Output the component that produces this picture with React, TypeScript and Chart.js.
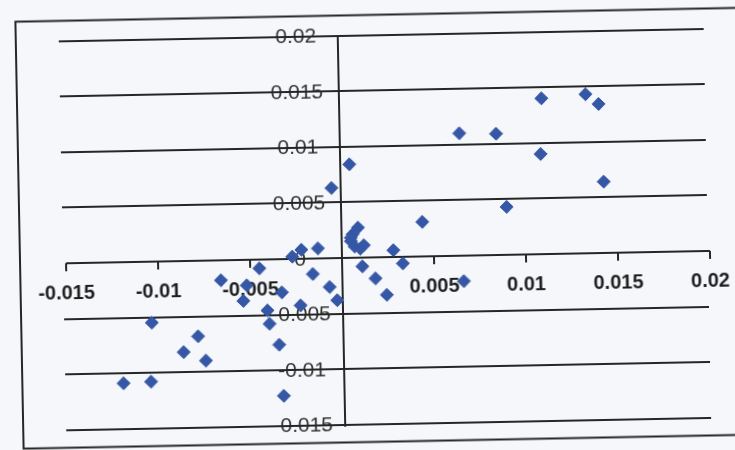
import React, { useEffect, useRef } from "react";
import { Chart, registerables } from "chart.js";

Chart.register(...registerables);

// Data
const xValues = [
  0.0110, 0.0134, 0.0141, 0.0065, 0.0085, 0.0109, 0.0143, 0.0090, 0.0044, 0.0066,
  0.0033, 0.0028, 0.0011, 0.0018, 0.0024, 0.0005, -0.0005, 0.0009, 0.0006, 0.0005,
  0.0005, 0.0007, 0.0010, 0.0012, -0.0027, -0.0022, -0.0013, -0.0016, -0.0007, -0.0003,
  -0.0033, -0.0023, -0.0045, -0.0066, -0.0052, -0.0054, -0.0041, -0.0040, -0.0035, -0.0033,
  -0.0104, -0.0079, -0.0087, -0.0075, -0.0120, -0.0105,
];
const yValues = [
  0.0140, 0.0143, 0.0134, 0.0110, 0.0109, 0.0090, 0.0064, 0.0043, 0.0031, -0.0023,
  -0.0006, 0.0006, -0.0008, -0.0019, -0.0034, 0.0084, 0.0063, 0.0027, 0.0021, 0.0018,
  0.0015, 0.0010, 0.0008, 0.0011, 0.0002, 0.0008, 0.0009, -0.0014, -0.0026, -0.0038,
  -0.0030, -0.0042, -0.0008, -0.0018, -0.0023, -0.0037, -0.0046, -0.0058, -0.0077, -0.0123,
  -0.0055, -0.0068, -0.0082, -0.0090, -0.0109, -0.0108,
];

const xTicks = [-0.015, -0.01, -0.005, 0, 0.005, 0.01, 0.015, 0.02];
const xTickLabels = ["-0.015", "-0.01", "-0.005", "", "0.005", "0.01", "0.015", "0.02"];
const yTicks = [0.02, 0.015, 0.01, 0.005, 0, -0.005, -0.01, -0.015];
const yTickLabels = ["0.02", "0.015", "0.01", "0.005", "0", "-0.005", "-0.01", "-0.015"];

const BG = "#f5f7fa";
const LINE = "#262626";
const POINT = "#3557a6";
const FONT = "'Liberation Sans', Arial, sans-serif";

const excelAxes = {
  id: "excelAxes",
  beforeDraw(chart: any) {
    const ctx = chart.ctx;
    ctx.save();
    ctx.fillStyle = BG;
    ctx.fillRect(0, 0, chart.width, chart.height);
    // outer chart border
    ctx.strokeStyle = LINE;
    ctx.lineWidth = 2;
    ctx.strokeRect(20, 15.5, 760, 427);
    ctx.restore();
  },
  beforeDatasetsDraw(chart: any) {
    const ctx = chart.ctx;
    const xs = chart.scales.x;
    const ys = chart.scales.y;
    const x0 = xs.getPixelForValue(0);
    const y0 = ys.getPixelForValue(0);
    const xl = xs.getPixelForValue(xTicks[0]);
    const xr = xs.getPixelForValue(xTicks[xTicks.length - 1]);
    ctx.save();

    // y labels (centered left of axis)
    ctx.font = `21px ${FONT}`;
    ctx.fillStyle = "#333333";
    ctx.textAlign = "center";
    ctx.textBaseline = "middle";
    yTicks.forEach((v, i) => {
      ctx.fillText(yTickLabels[i], x0 - 42, ys.getPixelForValue(v) + 1);
    });

    // gridlines
    ctx.strokeStyle = LINE;
    ctx.lineWidth = 2;
    yTicks.forEach((v) => {
      if (v === 0) return;
      const y = Math.round(ys.getPixelForValue(v));
      ctx.beginPath();
      ctx.moveTo(xl - 3, y);
      ctx.lineTo(xr - 2, y);
      ctx.stroke();
    });

    // x axis
    ctx.beginPath();
    ctx.moveTo(xl, Math.round(y0));
    ctx.lineTo(xr, Math.round(y0));
    ctx.stroke();
    // x tick marks
    xTicks.forEach((v) => {
      const x = Math.round(xs.getPixelForValue(v));
      ctx.beginPath();
      ctx.moveTo(x, Math.round(y0));
      ctx.lineTo(x, Math.round(y0) + 8);
      ctx.stroke();
    });
    // y axis
    ctx.beginPath();
    ctx.moveTo(Math.round(x0), ys.getPixelForValue(yTicks[0]));
    ctx.lineTo(Math.round(x0), ys.getPixelForValue(yTicks[yTicks.length - 1]) + 2);
    ctx.stroke();

    // x labels
    ctx.font = `bold 20px ${FONT}`;
    ctx.fillStyle = "#1e1e1e";
    xTicks.forEach((v, i) => {
      if (!xTickLabels[i]) return;
      ctx.fillText(xTickLabels[i], xs.getPixelForValue(v), y0 + 31);
    });
    ctx.restore();
  },
};

export default function App() {
  const ref = useRef<HTMLCanvasElement | null>(null);
  useEffect(() => {
    if (!ref.current) return;
    const data = xValues.map((x, i) => ({ x, y: yValues[i] }));
    const chart = new Chart(ref.current, {
      type: "scatter",
      data: {
        datasets: [
          {
            data,
            pointStyle: "rectRot",
            pointRadius: 6.5,
            pointBackgroundColor: POINT,
            pointBorderColor: POINT,
            pointBorderWidth: 1,
          },
        ],
      },
      options: {
        animation: false,
        responsive: false,
        devicePixelRatio: 1,
        layout: { padding: { left: 66, right: 90, top: 35.5, bottom: 55.3 } },
        plugins: { legend: { display: false }, tooltip: { enabled: false } },
        scales: {
          x: { type: "linear", min: -0.015, max: 0.02, display: false },
          y: { type: "linear", min: -0.015, max: 0.02, display: false },
        },
      },
      plugins: [excelAxes],
    });
    return () => chart.destroy();
  }, []);

  return (
    <div
      style={{
        position: "fixed",
        left: 0,
        top: 0,
        width: 735,
        height: 450,
        overflow: "hidden",
        background: BG,
      }}
    >
      <div
        style={{
          position: "absolute",
          left: 0,
          top: 0,
          width: 800,
          height: 480,
          transform: "rotate(-1.1deg)",
          transformOrigin: "342px 258px",
        }}
      >
        <canvas ref={ref} width={800} height={480} style={{ width: 800, height: 480, display: "block" }} />
      </div>
    </div>
  );
}
